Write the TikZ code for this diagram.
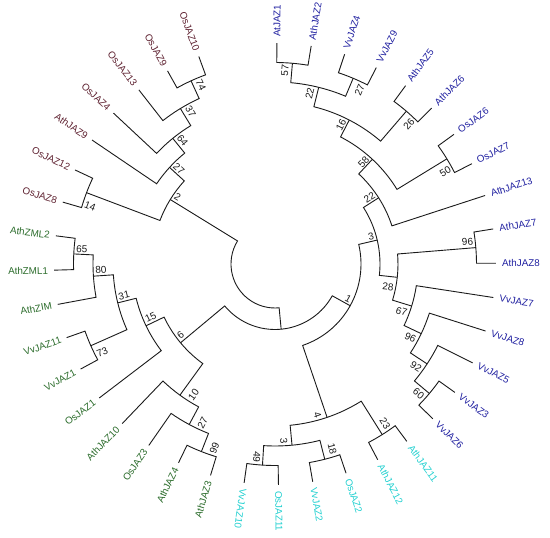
\documentclass[tikz,border=0pt]{standalone}
\usepackage{fontspec}
\setmainfont{Liberation Sans}
\definecolor{jzbrown}{HTML}{5E2130}
\definecolor{jzgreen}{HTML}{2A6B2A}
\definecolor{jzblue}{HTML}{2020A0}
\definecolor{jzcyan}{HTML}{22D0D0}
\definecolor{jzline}{HTML}{1A1A1A}
% radius of each tree level, root = 0, tips = 9
\newcommand\lvrad[1]{\ifcase#1 44\or 65.5\or 86\or 105\or 123\or 143\or 162\or 182\or 201.5\or 221\fi}
% tree point: name, angle, level
\newcommand\tnode[3]{%
  \expandafter\xdef\csname jza#1\endcsname{#2}%
  \expandafter\xdef\csname jzr#1\endcsname{\lvrad{#3}}%
  \coordinate (#1) at (#2:\csname jzr#1\endcsname pt);}
% clade: parent, level, first child, second child
\newcommand\clade[4]{%
  \pgfmathsetmacro\jzmid{(\csname jza#3\endcsname+\csname jza#4\endcsname)/2}%
  \tnode{#1}{\jzmid}{#2}%
  \draw[branch] (#3) -- (\csname jza#3\endcsname:\csname jzr#1\endcsname pt)
    arc[start angle=\csname jza#3\endcsname,end angle=\csname jza#4\endcsname,radius=\csname jzr#1\endcsname pt] -- (#4);}
% bootstrap value: node, side shift (+ = counterclockwise), value
\newcommand\boot[3]{%
  \pgfmathsetmacro\jzba{\csname jza#1\endcsname+(#2)/(\csname jzr#1\endcsname-7)*57.2958}%
  \pgfmathsetmacro\jzbr{\csname jzr#1\endcsname-1}%
  \ifdim\csname jza#1\endcsname pt>-100pt
    \node[boot,rotate=\csname jza#1\endcsname,anchor=east] (b#1) at (\jzba:\jzbr pt) {#3};
  \else
    \pgfmathsetmacro\jzrot{\csname jza#1\endcsname+180}%
    \node[boot,rotate=\jzrot,anchor=west] (b#1) at (\jzba:\jzbr pt) {#3};
  \fi}

\begin{document}
\begin{tikzpicture}[
  branch/.style={draw=jzline,line width=0.9pt},
  leaf/.style={font=\fontsize{9.8}{11}\selectfont,inner sep=2pt},
  boot/.style={font=\fontsize{10}{11}\selectfont,text=jzline,inner sep=1pt}]
  \useasboundingbox (-275pt,-274pt) rectangle (275pt,264pt);
  % tips, clockwise from the top
  \foreach \lname/\i/\col in {AtJAZ1/0/jzblue,AthJAZ2/1/jzblue,VvJAZ4/2/jzblue,VvJAZ9/3/jzblue,
      AthJAZ5/4/jzblue,AthJAZ6/5/jzblue,OsJAZ6/6/jzblue,OsJAZ7/7/jzblue,AthJAZ13/8/jzblue,
      AthJAZ7/9/jzblue,AthJAZ8/10/jzblue,VvJAZ7/11/jzblue,VvJAZ8/12/jzblue,VvJAZ5/13/jzblue,
      VvJAZ3/14/jzblue,VvJAZ6/15/jzblue,AthJAZ11/16/jzcyan,AthJAZ12/17/jzcyan,OsJAZ2/18/jzcyan,
      VvJAZ2/19/jzcyan,OsJAZ11/20/jzcyan,VvJAZ10/21/jzcyan,AthJAZ3/22/jzgreen,AthJAZ4/23/jzgreen,
      OsJAZ3/24/jzgreen,AthJAZ10/25/jzgreen,OsJAZ1/26/jzgreen,VvJAZ1/27/jzgreen,VvJAZ11/28/jzgreen,
      AthZIM/29/jzgreen,AthZML1/30/jzgreen,AthZML2/31/jzgreen,OsJAZ8/32/jzbrown,OsJAZ12/33/jzbrown,
      AthJAZ9/34/jzbrown,OsJAZ4/35/jzbrown,OsJAZ13/36/jzbrown,OsJAZ9/37/jzbrown,OsJAZ10/38/jzbrown}{
    \pgfmathsetmacro\a{89.5-8.93*\i}
    \tnode{\lname}{\a}{9}
    \ifdim\a pt>-100pt \def\rot{\a}\def\anc{west}\else\pgfmathsetmacro\rot{\a+180}\def\anc{east}\fi
    \node[leaf,text=\col,rotate=\rot,anchor=\anc] (t\lname) at (\a:225pt) {\lname};
  }
  % blue group
  \clade{n57}{8}{AtJAZ1}{AthJAZ2}
  \clade{n27b}{8}{VvJAZ4}{VvJAZ9}
  \clade{n22b}{7}{n57}{n27b}
  \clade{n26}{8}{AthJAZ5}{AthJAZ6}
  \clade{n16}{6}{n22b}{n26}
  \clade{n50}{8}{OsJAZ6}{OsJAZ7}
  \clade{n58}{5}{n16}{n50}
  \clade{n22c}{4}{n58}{AthJAZ13}
  \clade{n96a}{8}{AthJAZ7}{AthJAZ8}
  \clade{n60}{8}{VvJAZ3}{VvJAZ6}
  \clade{n92}{7}{VvJAZ5}{n60}
  \clade{n96b}{6}{VvJAZ8}{n92}
  \clade{n67}{5}{VvJAZ7}{n96b}
  \clade{n28}{4}{n96a}{n67}
  \clade{n3}{3}{n22c}{n28}
  % cyan group
  \clade{n23}{8}{AthJAZ11}{AthJAZ12}
  \clade{n18}{8}{OsJAZ2}{VvJAZ2}
  \clade{n49}{8}{OsJAZ11}{VvJAZ10}
  \clade{n3c}{7}{n18}{n49}
  \clade{n4}{6}{n23}{n3c}
  \clade{n1}{2}{n3}{n4}
  % green group
  \clade{n99}{8}{AthJAZ3}{AthJAZ4}
  \clade{n27g}{7}{n99}{OsJAZ3}
  \clade{n10}{6}{n27g}{AthJAZ10}
  \clade{n73}{8}{VvJAZ1}{VvJAZ11}
  \clade{n65}{8}{AthZML1}{AthZML2}
  \clade{n80}{7}{AthZIM}{n65}
  \clade{n31}{6}{n73}{n80}
  \clade{n15}{5}{OsJAZ1}{n31}
  \clade{n6}{4}{n10}{n15}
  \clade{nX}{1}{n6}{n1}
  % brown group
  \clade{n14}{8}{OsJAZ8}{OsJAZ12}
  \clade{n74}{8}{OsJAZ9}{OsJAZ10}
  \clade{n37}{7}{OsJAZ13}{n74}
  \clade{n64}{6}{OsJAZ4}{n37}
  \clade{n27}{5}{AthJAZ9}{n64}
  \clade{n2}{4}{n14}{n27}
  \clade{root}{0}{n2}{nX}
  % bootstrap values
  \boot{n57}{6.5}{57}
  \boot{n27b}{-10}{27}
  \boot{n22b}{7}{22}
  \boot{n26}{-10}{26}
  \boot{n16}{5}{16}
  \boot{n50}{-10}{50}
  \boot{n58}{4.5}{58}
  \boot{n22c}{4.5}{22}
  \boot{n3}{5}{3}
  \boot{n96a}{6}{96}
  \boot{n28}{-10}{28}
  \boot{n67}{-8}{67}
  \boot{n96b}{-8}{96}
  \boot{n92}{-8}{92}
  \boot{n60}{-7}{60}
  \boot{n1}{5}{1}
  \boot{n23}{8}{23}
  \boot{n18}{9.5}{18}
  \boot{n49}{-6}{49}
  \boot{n3c}{-7.5}{3}
  \boot{n4}{-8}{4}
  \boot{n99}{10.5}{99}
  \boot{n27g}{10.5}{27}
  \boot{n10}{10.5}{10}
  \boot{n73}{10}{73}
  \boot{n65}{-5}{65}
  \boot{n80}{-5.5}{80}
  \boot{n31}{-5.5}{31}
  \boot{n15}{-5.5}{15}
  \boot{n6}{-6}{6}
  \boot{n14}{11}{14}
  \boot{n74}{-7}{74}
  \boot{n37}{-7}{37}
  \boot{n64}{-6}{64}
  \boot{n27}{-5}{27}
  \boot{n2}{-5.5}{2}
\end{tikzpicture}
\end{document}
